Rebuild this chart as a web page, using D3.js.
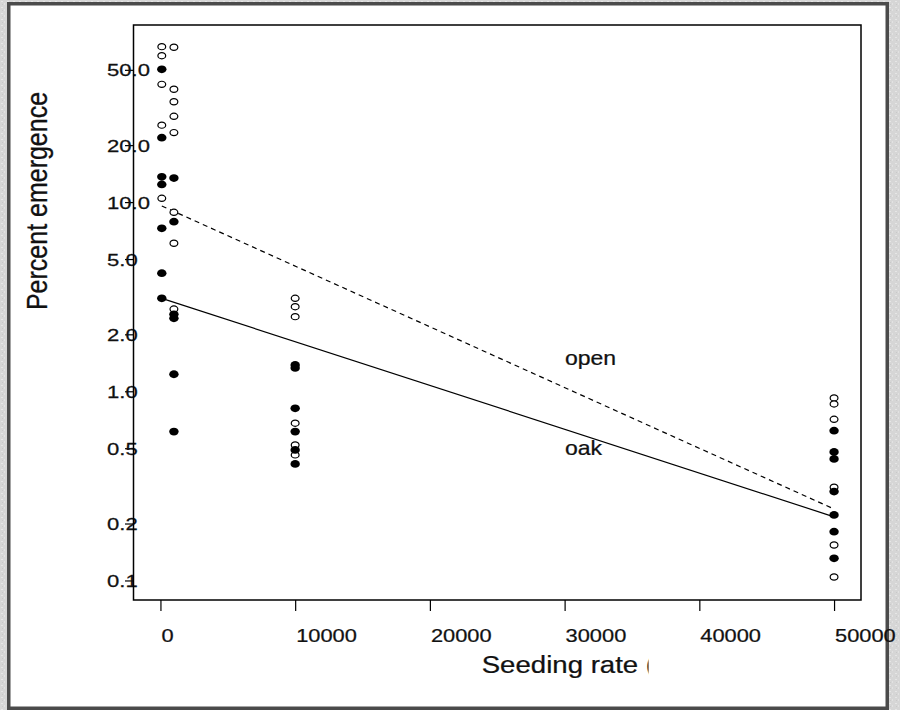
<!DOCTYPE html>
<html>
<head>
<meta charset="utf-8">
<script src="https://cdn.jsdelivr.net/npm/d3@7"></script>
<style>
  html, body { margin: 0; padding: 0; background: #d9d9d9; }
  svg { display: block; }
  text { font-family: "Liberation Sans", Arial, sans-serif; fill: #111; stroke: #111; stroke-width: 0.25; }
</style>
</head>
<body>
<svg id="chart" width="900" height="710"></svg>
<script>
// ---- data ----
const oakRate = [100,100,100,100,100,100,100,
                 1000,1000,1000,1000,1000,1000,
                 10000,10000,10000,10000,10000,10000,
                 50000,50000,50000,50000,50000,50000,50000];
const oakPct  = [50.3,21.9,13.6,12.4,7.27,4.21,3.10,
                 13.4,7.88,2.55,2.43,1.23,0.612,
                 1.377,1.328,0.813,0.612,0.490,0.413,
                 0.619,0.478,0.439,0.295,0.222,0.181,0.131];
const openRate = [100,100,100,100,100,
                  1000,1000,1000,1000,1000,1000,1000,1000,
                  10000,10000,10000,10000,10000,10000,
                  50000,50000,50000,50000,50000,50000];
const openPct  = [66.3,59.4,41.9,25.5,10.47,
                  65.8,39.5,33.9,28.4,23.3,8.83,6.06,2.72,
                  3.10,2.80,2.48,0.678,0.520,0.461,
                  0.922,0.857,0.711,0.311,0.154,0.1043];
const fitRate = [100, 50000];
const oakFit  = [3.10, 0.217];
const openFit = [9.54, 0.2386];
const xTicks = [0,10000,20000,30000,40000,50000];
const xTickLabels = ["0","10000","20000","30000","40000","50000"];
const yTicks = [50,20,10,5,2,1,0.5,0.2,0.1];
const yTickLabels = ["50.0","20.0","10.0","5.0","2.0","1.0","0.5","0.2","0.1"];

// ---- drawing ----
const svg = d3.select("#chart");
const L = 133.5, R = 861, T = 25, B = 600;

// background texture + frame
const defs = svg.append("defs");
const pat = defs.append("pattern").attr("id","tex").attr("width",6).attr("height",6)
  .attr("patternUnits","userSpaceOnUse");
pat.append("rect").attr("width",6).attr("height",6).attr("fill","#d6d6d6");
pat.append("rect").attr("x",1).attr("y",1).attr("width",2).attr("height",1).attr("fill","#e6e6e6");
pat.append("rect").attr("x",4).attr("y",3).attr("width",1).attr("height",2).attr("fill","#e2e2e2");
pat.append("rect").attr("x",2).attr("y",4).attr("width",1).attr("height",1).attr("fill","#c9c9c9");
svg.append("rect").attr("width",900).attr("height",710).attr("fill","url(#tex)");
svg.append("rect").attr("x",8.75).attr("y",3.75).attr("width",878.5).attr("height",704.5)
  .attr("fill","#fff").attr("stroke","#4b4b4b").attr("stroke-width",3.5);

const x = d3.scaleLinear().domain([-2000, 52000]).range([L, R]);
const y = d3.scaleLog().domain([0.07884, 86.3]).range([B, T]);

// y axis
const gy = svg.append("g").attr("transform", `translate(${L},0)`)
  .call(d3.axisLeft(y).tickValues(yTicks).tickSize(8.5)
        .tickFormat((d,i) => yTickLabels[i]));
gy.select(".domain").remove();
gy.selectAll(".tick line").attr("stroke","#000").attr("stroke-width",1.2);
gy.selectAll(".tick text")
  .attr("x", null).attr("dy", null)
  .attr("text-anchor","start")
  .attr("font-size", 17)
  .attr("fill","#111")
  .attr("transform","translate(-26.5,6) scale(1.3,1)");

// x axis
const gx = svg.append("g").attr("transform", `translate(0,${B})`)
  .call(d3.axisBottom(x).tickValues(xTicks).tickSize(11)
        .tickFormat((d,i) => xTickLabels[i]));
gx.select(".domain").remove();
gx.selectAll(".tick line").attr("stroke","#000").attr("stroke-width",1.2);
gx.selectAll(".tick text")
  .attr("y", null).attr("dy", null)
  .attr("text-anchor","start")
  .attr("font-size", 18.5)
  .attr("fill","#111")
  .attr("transform","translate(0.5,41.7) scale(1.18,1)");

// plot box
svg.append("rect").attr("x",L).attr("y",T).attr("width",R-L).attr("height",B-T)
  .attr("fill","none").attr("stroke","#000").attr("stroke-width",1.5);

// fitted lines
const line = d3.line().x(d => x(d[0])).y(d => y(d[1]));
svg.append("path").datum(fitRate.map((r,i)=>[r, openFit[i]]))
  .attr("d", line).attr("fill","none").attr("stroke","#000")
  .attr("stroke-width",1.2).attr("stroke-dasharray","5,4");
svg.append("path").datum(fitRate.map((r,i)=>[r, oakFit[i]]))
  .attr("d", line).attr("fill","none").attr("stroke","#000")
  .attr("stroke-width",1.2);

// points: open (hollow) first, then oak (filled)
svg.append("g").selectAll("ellipse")
  .data(openRate.map((r,i)=>[r, openPct[i]]))
  .join("ellipse")
  .attr("cx", d => x(d[0])).attr("cy", d => y(d[1]))
  .attr("rx", 3.9).attr("ry", 3.1)
  .attr("fill","#fff").attr("stroke","#000").attr("stroke-width",1.2);
svg.append("g").selectAll("ellipse")
  .data(oakRate.map((r,i)=>[r, oakPct[i]]))
  .join("ellipse")
  .attr("cx", d => x(d[0])).attr("cy", d => y(d[1]))
  .attr("rx", 4.7).attr("ry", 3.9)
  .attr("fill","#000");

// line labels
svg.append("text").attr("transform","translate(565,365) scale(1.15,1)")
  .attr("font-size",20).text("open");
svg.append("text").attr("transform","translate(565,455) scale(1.15,1)")
  .attr("font-size",20).text("oak");

// axis titles
defs.append("clipPath").attr("id","xclip").append("rect")
  .attr("x",400).attr("y",640).attr("width",248.5).attr("height",50);
svg.append("g").attr("clip-path","url(#xclip)")
  .append("text").attr("transform","translate(481.7,673.3) scale(1.15,1)")
  .attr("font-size",24).text("Seeding rate (");
svg.append("text").attr("transform","translate(46.5,201) rotate(-90) scale(1,1.2)")
  .attr("text-anchor","middle").attr("font-size",25).text("Percent emergence");
</script>
</body>
</html>
